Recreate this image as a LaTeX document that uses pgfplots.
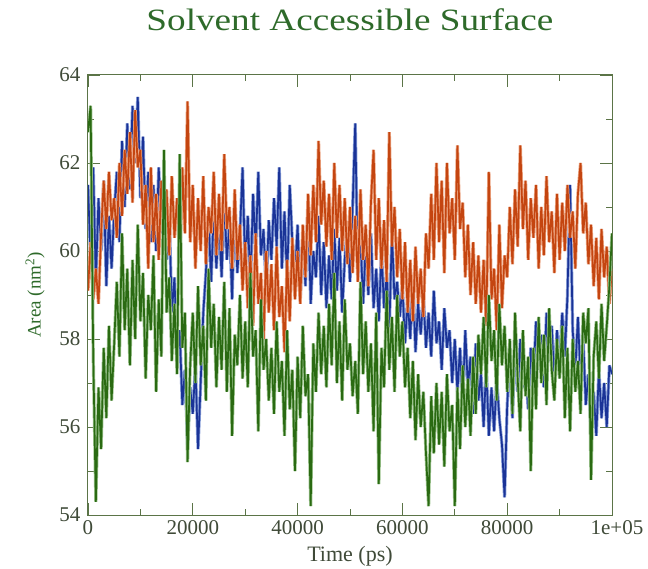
\documentclass[border=0pt]{standalone}
\usepackage{fontspec}
\setmainfont{Liberation Serif}
\usepackage{pgfplots}
\pgfplotsset{compat=1.18}
\usepackage{pgfplotstable}
\definecolor{sasBlue}{HTML}{1A3397}
\definecolor{sasOrange}{HTML}{C44510}
\definecolor{sasGreen}{HTML}{2A6A12}
\definecolor{sasBlueLt}{HTML}{8CA2DA}
\definecolor{sasOrangeLt}{HTML}{EBA482}
\definecolor{sasGreenLt}{HTML}{9CC38E}
\definecolor{frameGreen}{HTML}{5B7447}
\definecolor{labelGray}{HTML}{3F4A38}
\definecolor{titleGreen}{HTML}{2E6A2A}

% one value every 500 ps, 0 ... 1e5 ps
\pgfplotstableread[row sep=\\]{
y\\
61.5\\59.8\\61.9\\59.3\\61.2\\60.0\\61.6\\59.2\\60.8\\59.6\\
60.9\\61.8\\60.2\\62.5\\61.0\\62.9\\61.4\\63.3\\62.0\\63.5\\
61.2\\62.6\\60.5\\61.8\\60.2\\61.5\\60.0\\61.9\\60.4\\61.2\\
59.8\\60.9\\58.6\\59.4\\57.6\\58.2\\56.5\\57.3\\55.6\\56.9\\
56.3\\57.4\\55.5\\57.0\\58.6\\59.5\\60.8\\59.3\\60.9\\59.6\\
60.7\\59.4\\61.2\\59.8\\60.6\\58.9\\61.0\\59.5\\60.4\\61.9\\
59.6\\60.8\\59.2\\61.3\\60.0\\61.8\\59.9\\60.5\\59.1\\60.7\\
59.8\\61.2\\60.1\\61.9\\59.6\\60.9\\59.3\\61.5\\60.2\\59.4\\
60.6\\58.9\\60.3\\59.2\\61.1\\58.8\\60.0\\59.4\\60.8\\59.0\\
60.2\\58.7\\59.9\\58.9\\60.5\\59.1\\60.3\\58.6\\59.8\\60.6\\
59.3\\61.0\\62.9\\59.4\\60.3\\58.8\\60.1\\59.0\\60.4\\58.7\\
59.6\\58.4\\60.0\\58.7\\59.5\\58.2\\60.4\\58.9\\59.3\\58.5\\
59.2\\57.9\\58.9\\58.0\\59.4\\57.7\\58.8\\58.1\\59.0\\57.8\\
58.6\\57.6\\59.1\\57.9\\58.4\\57.3\\58.7\\57.8\\58.2\\57.0\\
58.0\\56.8\\57.8\\56.5\\58.2\\56.9\\57.6\\56.3\\57.9\\56.6\\
57.2\\56.0\\57.4\\55.8\\56.9\\55.9\\57.1\\56.2\\55.6\\54.4\\
56.5\\57.6\\56.2\\57.9\\56.8\\58.0\\56.9\\57.4\\56.4\\57.8\\
57.1\\58.4\\57.3\\58.1\\56.9\\58.6\\57.5\\58.3\\57.0\\58.2\\
57.4\\58.6\\57.6\\59.0\\61.5\\58.2\\57.3\\58.5\\57.1\\58.0\\
56.5\\57.2\\55.9\\56.8\\55.8\\57.3\\56.2\\57.0\\56.0\\57.4\\
57.2\\
}\blueSAS

\pgfplotstableread[row sep=\\]{
y\\
59.1\\60.2\\58.9\\59.6\\58.8\\60.4\\61.6\\60.5\\61.8\\60.7\\
61.2\\60.3\\62.0\\60.8\\62.3\\61.3\\62.7\\61.1\\63.2\\61.9\\
62.3\\60.6\\61.5\\59.6\\61.9\\60.2\\61.3\\59.8\\61.6\\60.1\\
61.4\\59.9\\61.7\\60.3\\61.2\\59.7\\61.9\\60.4\\63.4\\60.2\\
61.5\\59.6\\61.2\\60.0\\61.7\\59.7\\61.0\\60.4\\61.8\\59.9\\
61.3\\60.0\\62.2\\60.5\\61.0\\59.6\\61.4\\59.8\\60.6\\59.1\\
60.2\\58.7\\59.9\\58.3\\60.4\\58.8\\59.5\\57.9\\60.0\\58.6\\
59.7\\58.2\\60.1\\58.5\\59.2\\57.7\\59.8\\58.4\\60.3\\58.9\\
60.0\\58.8\\60.6\\59.4\\61.3\\59.9\\61.5\\60.2\\62.5\\60.6\\
61.6\\60.1\\61.3\\59.8\\62.0\\60.3\\61.5\\60.0\\61.2\\59.7\\
61.0\\59.5\\60.8\\59.3\\61.4\\59.8\\60.6\\59.2\\61.1\\62.3\\
59.8\\61.2\\59.6\\60.7\\59.3\\62.7\\60.1\\61.0\\59.4\\60.5\\
58.9\\60.2\\58.6\\59.8\\58.4\\60.1\\58.8\\59.6\\58.5\\60.4\\
59.6\\61.3\\59.8\\62.0\\60.2\\61.6\\59.5\\62.0\\60.4\\61.2\\
59.8\\62.4\\60.5\\61.1\\59.4\\60.6\\59.0\\60.2\\58.8\\59.9\\
58.6\\59.8\\58.3\\61.8\\58.9\\59.6\\58.2\\60.6\\58.7\\59.9\\
59.4\\61.0\\59.7\\61.4\\60.1\\62.4\\60.5\\61.6\\59.8\\61.2\\
60.3\\61.5\\59.6\\61.0\\59.9\\61.7\\60.2\\60.9\\59.5\\61.3\\
59.8\\61.1\\60.0\\61.5\\60.3\\60.9\\59.6\\61.3\\62.0\\60.4\\
61.1\\59.7\\60.6\\59.2\\60.3\\58.9\\60.5\\59.4\\60.1\\58.8\\
59.6\\
}\orangeSAS

\pgfplotstableread[row sep=\\]{
y\\
62.7\\63.3\\57.6\\54.3\\56.9\\55.5\\57.8\\56.2\\58.3\\56.6\\
57.9\\59.3\\57.6\\60.4\\58.2\\59.6\\57.4\\59.8\\58.0\\60.6\\
58.4\\59.5\\57.1\\59.0\\58.2\\59.9\\56.8\\58.9\\57.6\\62.3\\
58.6\\59.4\\57.5\\58.8\\57.2\\62.2\\57.8\\58.6\\55.2\\57.4\\
58.6\\57.0\\59.2\\57.4\\58.3\\56.6\\59.6\\57.8\\58.8\\56.9\\
58.5\\57.3\\59.3\\56.8\\58.7\\55.8\\58.1\\57.4\\59.0\\57.1\\
58.4\\56.9\\59.5\\57.6\\58.2\\55.9\\58.9\\57.3\\58.0\\56.6\\
57.8\\56.3\\58.4\\56.8\\57.5\\55.8\\58.2\\56.4\\57.3\\55.0\\
57.6\\56.2\\58.3\\56.7\\57.2\\54.2\\57.9\\56.8\\58.6\\57.2\\
58.3\\56.9\\58.8\\57.4\\59.5\\57.0\\58.4\\56.6\\58.9\\57.3\\
57.9\\56.7\\57.5\\56.3\\59.3\\57.2\\58.4\\56.8\\57.9\\55.9\\
58.6\\54.7\\57.8\\56.9\\59.1\\57.3\\58.5\\56.8\\59.0\\57.6\\
58.4\\56.9\\57.8\\56.2\\57.5\\55.7\\57.2\\56.0\\56.8\\55.4\\
54.2\\56.7\\55.4\\57.0\\55.6\\56.8\\55.1\\57.2\\55.9\\56.5\\
54.2\\56.9\\55.5\\57.4\\56.0\\57.1\\55.8\\57.6\\56.3\\58.1\\
57.2\\58.5\\56.9\\59.0\\57.5\\58.2\\56.6\\58.8\\57.4\\58.3\\
56.8\\58.0\\56.3\\58.6\\57.1\\55.9\\58.2\\56.7\\57.6\\55.0\\
57.8\\56.4\\58.5\\57.0\\58.1\\56.5\\58.7\\57.3\\56.6\\58.0\\
57.1\\58.3\\56.2\\57.8\\55.9\\58.0\\56.8\\57.5\\56.3\\58.6\\
57.9\\58.7\\54.8\\57.6\\58.4\\57.1\\58.8\\57.5\\58.3\\59.2\\
60.4\\
}\greenSAS

\begin{document}
\begin{tikzpicture}
\useasboundingbox (-88pt,-53pt) rectangle (560pt,515pt);
\begin{axis}[
  at={(0pt,0pt)}, anchor=south west,
  scale only axis, width=524pt, height=440pt,
  xmin=0, xmax=100000, ymin=54, ymax=64,
  xtick={0,20000,40000,60000,80000,100000},
  xticklabels={0,20000,40000,60000,80000,\hspace*{10pt}1e+05},
  ytick={54,56,58,60,62,64},
  minor x tick num=1, minor y tick num=1,
  scaled x ticks=false,
  tick align=inside,
  major tick length=12pt, minor tick length=6pt,
  axis line style={draw=frameGreen, line width=1pt},
  every tick/.style={draw=frameGreen, line width=0.9pt},
  /pgf/number format/assume math mode=true,
  ticklabel style={font=\fontsize{21}{21}\selectfont, text=labelGray},
  xticklabel style={yshift=-2pt},
  yticklabel style={xshift=-4pt},
  title={\scalebox{1.2}[1]{Solvent Accessible Surface}},
  title style={at={(0.5,1)}, anchor=base, yshift=38pt,
               font=\fontsize{31}{31}\selectfont, text=titleGreen},
  xlabel={Time (ps)},
  xlabel style={at={(axis description cs:0.5,0)}, anchor=base, yshift=-46pt,
                font=\fontsize{22}{22}\selectfont, text=labelGray},
  ylabel={Area (nm\textsuperscript{2})},
  ylabel style={at={(axis description cs:-0.101,0.5)}, anchor=center,
                font=\fontsize{19}{19}\selectfont, text=titleGreen},
  every axis plot/.append style={line join=bevel},
  halo/.style={line width=3.2pt},
  core/.style={line width=1.7pt},
]
% light halo under each trace, dark trace on top
\addplot[sasBlueLt, halo] table[x expr=\coordindex*500, y=y] {\blueSAS};
\addplot[sasBlue, core] table[x expr=\coordindex*500, y=y] {\blueSAS};
\addplot[sasOrangeLt, halo] table[x expr=\coordindex*500, y=y] {\orangeSAS};
\addplot[sasOrange, core] table[x expr=\coordindex*500, y=y] {\orangeSAS};
\addplot[sasGreenLt, halo] table[x expr=\coordindex*500, y=y] {\greenSAS};
\addplot[sasGreen, core] table[x expr=\coordindex*500, y=y] {\greenSAS};
\end{axis}
\end{tikzpicture}
\end{document}
